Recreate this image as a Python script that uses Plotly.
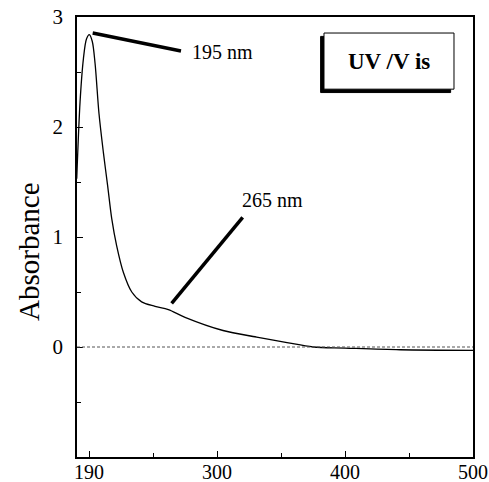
import plotly.graph_objects as go

wavelength = [190.4, 193.0, 195.6, 198.0, 200.2, 202.5, 204.7, 207.8, 211.2, 214.6, 217.7, 221.6,
              226.8, 233.4, 241.1, 251.6, 262.0, 275.0, 304.7, 331.0, 354.7, 375.0, 400.0, 443.0, 500.0]
absorbance = [1.53, 2.23, 2.62, 2.80, 2.84, 2.78, 2.58, 2.12, 1.77, 1.46, 1.17, 0.92,
              0.68, 0.50, 0.41, 0.37, 0.34, 0.27, 0.15, 0.09, 0.04, 0.0, -0.01, -0.025, -0.03]

x_tickvals = [200, 300, 400, 500]
x_ticktext = ["190", "300", "400", "500"]
x_minor = [250, 350, 450]
y_tickvals = [0, 1, 2, 3]
y_ticktext = ["0", "1", "2", "3"]
y_minor = [-0.5, 0.5, 1.5, 2.5]

FONT = "Liberation Serif"

fig = go.Figure()
fig.add_trace(go.Scatter(x=wavelength, y=absorbance, mode="lines",
                         line=dict(color="black", width=1.3, shape="spline", smoothing=0.9),
                         showlegend=False, hoverinfo="skip"))

fig.update_layout(
    width=489, height=482,
    margin=dict(l=77, r=16, t=17, b=25, autoexpand=False),
    paper_bgcolor="white", plot_bgcolor="white",
    font=dict(family=FONT, color="black", size=20),
    xaxis=dict(range=[190.6, 500], showgrid=False, zeroline=False, automargin=False,
               showline=True, mirror=True, linecolor="black", linewidth=1.5,
               tickvals=x_tickvals, ticktext=x_ticktext, ticks="inside", ticklen=6,
               tickwidth=1.3, tickcolor="black", tickfont=dict(size=20, family=FONT),
               ticklabelstandoff=-4,
               minor=dict(tickvals=x_minor, ticks="inside", ticklen=4, tickwidth=1.2, tickcolor="black")),
    yaxis=dict(range=[-1, 3], showgrid=False, zeroline=False, automargin=False,
               showline=True, mirror=True, linecolor="black", linewidth=1.5,
               tickvals=y_tickvals, ticktext=y_ticktext, ticks="inside", ticklen=6,
               tickwidth=1.3, tickcolor="black", tickfont=dict(size=21, family=FONT),
               ticklabelstandoff=8,
               minor=dict(tickvals=y_minor, ticks="inside", ticklen=4, tickwidth=1.2, tickcolor="black")),
)

# y axis title
fig.add_annotation(xref="paper", yref="paper", x=0, y=0.466, xshift=-48, text="Absorbance",
                   textangle=-90, showarrow=False, xanchor="center", yanchor="middle",
                   font=dict(size=29, family=FONT))

# zero dashed line
fig.add_shape(type="line", xref="paper", yref="y", x0=0, x1=1, y0=0, y1=0,
              line=dict(color="#555", width=1, dash="3px,2px"))

# annotation pointer lines
fig.add_shape(type="line", xref="paper", yref="paper", x0=0.0396, y0=0.9636, x1=0.2626, y1=0.9227,
              line=dict(color="black", width=3.5))
fig.add_shape(type="line", xref="paper", yref="paper", x0=0.239, y0=0.349, x1=0.4184, y1=0.5445,
              line=dict(color="black", width=3.5))

fig.add_annotation(xref="paper", yref="paper", x=0.2854, y=0.9205, text="195 nm",
                   showarrow=False, xanchor="left", yanchor="middle", font=dict(size=20, family=FONT))
fig.add_annotation(xref="paper", yref="paper", x=0.4116, y=0.584, text="265 nm",
                   showarrow=False, xanchor="left", yanchor="middle", font=dict(size=20, family=FONT))

# shadow box
bx0, bx1, by0, by1 = 0.6237, 0.952, 0.836, 0.9636
dx, dy = 0.0085, 0.0077
fig.add_shape(type="rect", xref="paper", yref="paper", x0=bx0 - dx, x1=bx1 - dx, y0=by0 - dy, y1=by1 - dy,
              fillcolor="black", line=dict(color="black", width=1))
fig.add_shape(type="rect", xref="paper", yref="paper", x0=bx0, x1=bx1, y0=by0, y1=by1,
              fillcolor="white", line=dict(color="black", width=1))
fig.add_annotation(xref="paper", yref="paper", x=(bx0 + bx1) / 2, y=(by0 + by1) / 2,
                   text="<b>UV /V is</b>", showarrow=False, xanchor="center", yanchor="middle",
                   font=dict(size=23, family=FONT))

fig.write_html("out.html", config={"displayModeBar": False},
               post_script="document.body.style.margin='0px';document.body.style.overflow='hidden';")
